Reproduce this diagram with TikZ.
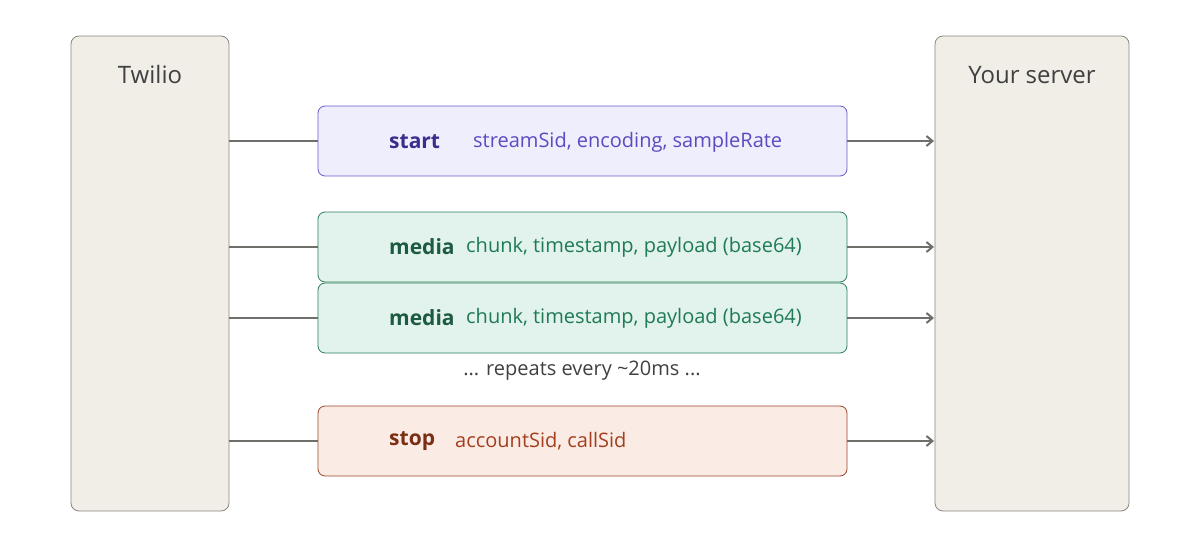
\documentclass[tikz,border=0pt]{standalone}
\usepackage{fontspec}
\setmainfont{Open Sans}
\usetikzlibrary{arrows.meta}
\definecolor{sidefill}{HTML}{F1EEE7}\definecolor{sideline}{HTML}{8A8680}
\definecolor{conn}{HTML}{6E6E6A}
\definecolor{sfill}{HTML}{EEEEFC}\definecolor{sline}{HTML}{6A5ACD}\definecolor{stxt}{HTML}{3A2D8C}\definecolor{sdet}{HTML}{5A4BC0}
\definecolor{mfill}{HTML}{E1F3EC}\definecolor{mline}{HTML}{2E7D5B}\definecolor{mtxt}{HTML}{1D5A42}\definecolor{mdet}{HTML}{1F7A55}
\definecolor{pfill}{HTML}{FAEBE4}\definecolor{pline}{HTML}{A0442A}\definecolor{ptxt}{HTML}{7A2E14}\definecolor{pdet}{HTML}{A33E1E}
\begin{document}
\begin{tikzpicture}[x=1pt,y=-1pt,
 side/.style={draw=sideline,fill=sidefill,rounded corners=8pt,line width=0.8pt},
 msg/.style={rounded corners=7pt,line width=0.8pt},
 big/.style={anchor=west,font=\fontsize{21}{24}\selectfont\bfseries,inner sep=0},
 det/.style={anchor=west,font=\fontsize{20}{24}\selectfont,inner sep=0},
 ttl/.style={font=\fontsize{24}{28}\selectfont,text=black!75,inner sep=0},
 con/.style={draw=conn,line width=2pt},
 arr/.style={con,-{Straight Barb[length=6pt,width=10pt]}}]
\useasboundingbox (0,0) rectangle (1200,548);
\draw[side] (71,36) rectangle (229,511);
\draw[side] (935,36) rectangle (1129,511);
\node[ttl] (tw) at (150,75) {Twilio};
\node[ttl] (ys) at (1032,75) {Your server};
\draw[msg,draw=sline,fill=sfill] (318,106) rectangle (847,176);
\draw[msg,draw=mline,fill=mfill] (318,212) rectangle (847,282);
\draw[msg,draw=mline,fill=mfill] (318,283) rectangle (847,353);
\draw[msg,draw=pline,fill=pfill] (318,406) rectangle (847,476);
\node[big,text=stxt] (s1) at (389,142) {start};
\node[det,text=sdet] (s2) at (473,142) {streamSid, encoding, sampleRate};
\node[big,text=mtxt] (m1) at (389,247) {media};
\node[det,text=mdet] (m2) at (466,247) {chunk, timestamp, payload (base64)};
\node[big,text=mtxt] (n1) at (389,318) {media};
\node[det,text=mdet] (n2) at (466,318) {chunk, timestamp, payload (base64)};
\node[det,anchor=center,text=black!75] (rep) at (582,371) {... repeats every \textasciitilde20ms ...};
\node[big,text=ptxt] (p1) at (389,441) {stop};
\node[det,text=pdet] (p2) at (455,441) {accountSid, callSid};
\foreach \y in {141,247,318,441}{
 \draw[con] (229,\y) -- (318,\y);
 \draw[arr] (847,\y) -- (934,\y);}
\end{tikzpicture}
\end{document}
